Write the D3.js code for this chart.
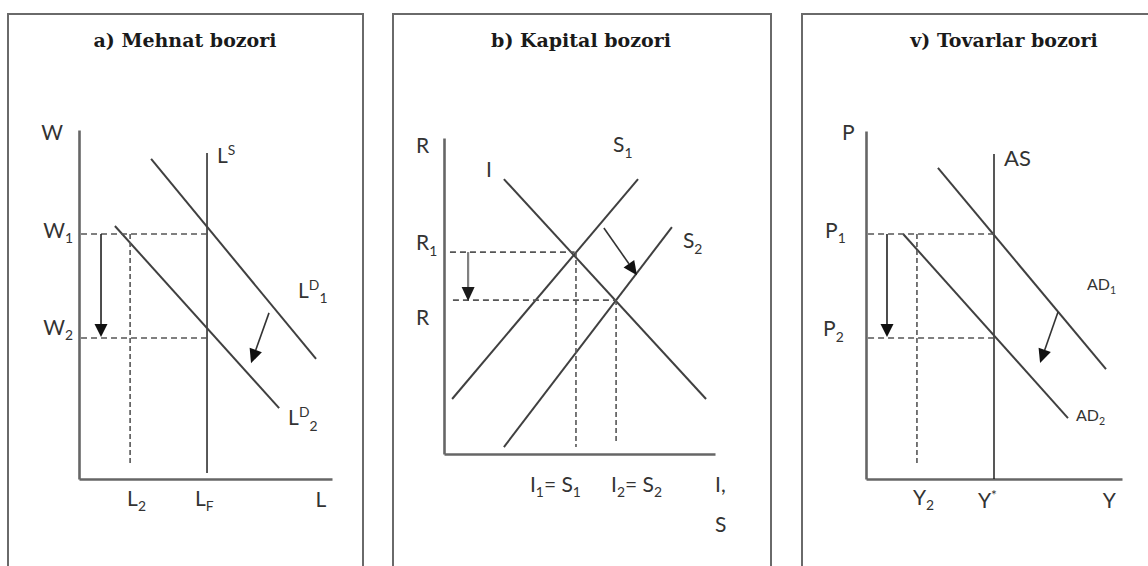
<!DOCTYPE html>
<html><head><meta charset="utf-8">
<script src="https://cdn.jsdelivr.net/npm/d3@7"></script>
<style>body{margin:0;background:#fff} svg{display:block}</style>
</head><body><svg id="c" width="1148" height="566"></svg>
<script>
// ---------------- data (abstract units 0–100 on each axis) ----------------
const panelTitles = ["a) Mehnat bozori", "b) Kapital bozori", "v) Tovarlar bozori"];

// a) labour market
const laborAxisNames = ["W", "L"];
const laborSupplyLF = 50.6;
const laborSupplyTop = 93.4;
const laborDemand1 = [[28.5, 91.7], [93.7, 34.4]];
const laborDemand2 = [[14.2, 72.5], [79.1, 20.3]];
const wageLevels = [70.2, 40.4];            // W1, W2
const wageLabels = ["W_1", "W_2"];
const laborL2 = 20.2;
const laborTickLabels = ["L_2", "L_F"];
const wageArrowX = 8.7;
const laborShift = [[75.1, 47.6], [68.0, 33.2]];
const laborCurveLabels = ["L^S", "L^D_1", "L^D_2"];

// b) capital market
const capitalAxisNames = ["R", "I,", "S"];
const investment = [[22.1, 87.0], [96.7, 17.4]];
const saving1 = [[3.0, 17.4], [71.6, 87.0]];
const saving2 = [[22.1, 2.2], [84.1, 71.8]];
const rateLevels = [63.9, 48.7];            // R1, R
const rateLabels = ["R_1", "R"];
const quantityLevels = [48.7, 63.5];        // I1=S1, I2=S2
const quantityLabels = ["I_1= S_1", "I_2= S_2"];
const rateArrowX = 8.9;
const savingShift = [[59.0, 71.5], [71.2, 56.6]];
const capitalCurveLabels = ["I", "S_1", "S_2"];

// v) goods market
const goodsAxisNames = ["P", "Y"];
const aggSupplyY = 50.0;
const aggSupplyTop = 93.4;
const aggDemand1 = [[28.1, 89.4], [93.75, 31.6]];
const aggDemand2 = [[14.5, 70.4], [78.9, 17.5]];
const priceLevels = [70.4, 40.5];           // P1, P2
const priceLabels = ["P_1", "P_2"];
const outputY2 = 19.9;
const outputTickLabels = ["Y_2", "Y^*"];
const priceArrowX = 8.2;
const demandShift = [[75.0, 48.0], [68.0, 33.3]];
const goodsCurveLabels = ["AS", "AD_1", "AD_2"];

// ---------------- drawing ----------------
const svg = d3.select("#c");
svg.append("rect").attr("width", 1148).attr("height", 566).attr("fill", "#fff");

const FONT = "Lato, 'Open Sans', sans-serif";
const CURVE = "#404040", AXIS = "#666", DASH = "#555", TXT = "#333";

// frames
const frames = [[8, 363], [393, 771], [802, 1152]];
frames.forEach(([x0, x1]) => {
  svg.append("rect").attr("x", x0).attr("y", 14).attr("width", x1 - x0).attr("height", 600)
    .attr("fill", "none").attr("stroke", "#6a6a6a").attr("stroke-width", 2);
});
const titleX = [185, 581, 1004];
panelTitles.forEach((t, i) => {
  svg.append("text").attr("x", titleX[i]).attr("y", 47).attr("text-anchor", "middle")
    .attr("font-family", "'DejaVu Serif', serif").attr("font-weight", "bold")
    .attr("font-size", 19).attr("fill", "#1a1a1a").text(t);
});

// rich label: "_" subscript char, "^" superscript char
function rich(g, str, x, y, opts = {}) {
  const size = opts.size || 21;
  const t = g.append("text").attr("x", x).attr("y", y)
    .attr("font-family", FONT).attr("font-size", size).attr("fill", TXT)
    .attr("text-anchor", opts.anchor || "start");
  let i = 0;
  const parts = [];
  while (i < str.length) {
    const c = str[i];
    if (c === "_" || c === "^") { parts.push({ k: c === "_" ? -1 : 1, s: str[i + 1] }); i += 2; }
    else { let s = ""; while (i < str.length && str[i] !== "_" && str[i] !== "^") s += str[i++]; parts.push({ k: 0, s }); }
  }
  let cur = 0;
  parts.forEach(p => {
    const target = p.k === -1 ? size * 0.26 : p.k === 1 ? -size * 0.38 : 0;
    t.append("tspan").attr("dy", target - cur)
      .attr("font-size", p.k ? size * 0.66 : size).text(p.s);
    cur = target;
  });
  return t;
}

function arrow(g, x0, y0, x1, y1, color, headColor, hl = 13, hw = 6.5, w = 1.6) {
  const dx = x1 - x0, dy = y1 - y0, L = Math.hypot(dx, dy), ux = dx / L, uy = dy / L;
  const bx = x1 - ux * hl, by = y1 - uy * hl;
  g.append("line").attr("x1", x0).attr("y1", y0).attr("x2", bx).attr("y2", by)
    .attr("stroke", color).attr("stroke-width", w);
  g.append("path").attr("d", `M${x1},${y1}L${bx - uy * hw},${by + ux * hw}L${bx + uy * hw},${by - ux * hw}Z`)
    .attr("fill", headColor);
}

function panel(xr, yr) {
  const g = svg.append("g");
  const x = d3.scaleLinear().domain([0, 100]).range(xr);
  const y = d3.scaleLinear().domain([0, 100]).range(yr);
  const ax = d3.axisBottom(x).tickValues([]).tickSizeOuter(0);
  const ay = d3.axisLeft(y).tickValues([]).tickSizeOuter(0);
  g.append("g").attr("transform", `translate(0,${y(0)})`).call(ax)
    .select(".domain").attr("stroke", AXIS).attr("stroke-width", 2.6);
  g.append("g").attr("transform", `translate(${x(0)},0)`).call(ay)
    .select(".domain").attr("stroke", AXIS).attr("stroke-width", 2.6);
  const line = d3.line().x(d => x(d[0])).y(d => y(d[1]));
  const curve = (pts, w = 2, c = CURVE) => g.append("path").attr("d", line(pts))
    .attr("fill", "none").attr("stroke", c).attr("stroke-width", w);
  const dashed = (pts, da) => g.append("path").attr("d", line(pts)).attr("fill", "none")
    .attr("stroke", DASH).attr("stroke-width", 1.6).attr("stroke-dasharray", da);
  return { g, x, y, curve, dashed };
}

// ---- panel a ----
{
  const p = panel([79, 332], [479, 130]);
  const { g, x, y } = p;
  p.curve([[laborSupplyLF, 1.7], [laborSupplyLF, laborSupplyTop]], 1.4, "#111");
  p.curve(laborDemand1);
  p.curve(laborDemand2);
  wageLevels.forEach(w => p.dashed([[0.8, w], [laborSupplyLF + 1, w]], "6,4"));
  p.dashed([[laborL2, wageLevels[0]], [laborL2, 4]], "5,3");
  arrow(g, x(wageArrowX), y(wageLevels[0]), x(wageArrowX), y(wageLevels[1]) - 1, "#222", "#111", 13, 6.5, 1.6);
  arrow(g, x(laborShift[0][0]), y(laborShift[0][1]), x(laborShift[1][0]), y(laborShift[1][1]), "#333", "#111", 14, 6.5, 1.6);
  rich(g, laborAxisNames[0], x(0) - 16, y(100) + 10, { anchor: "end" });
  rich(g, wageLabels[0], x(0) - 6, y(wageLevels[0]) + 4, { anchor: "end" });
  rich(g, wageLabels[1], x(0) - 6, y(wageLevels[1]) - 3, { anchor: "end" });
  rich(g, laborTickLabels[0], x(laborL2) - 3, y(0) + 27);
  rich(g, laborTickLabels[1], x(laborSupplyLF) - 12, y(0) + 27);
  rich(g, laborAxisNames[1], x(93.5), y(0) + 28);
  rich(g, laborCurveLabels[0], x(laborSupplyLF) + 10, y(laborSupplyTop) + 10);
  rich(g, laborCurveLabels[1], x(laborDemand1[1][0]) - 18, y(laborDemand1[1][1]) - 61);
  rich(g, laborCurveLabels[2], x(laborDemand2[1][0]) + 9, y(laborDemand2[1][1]) + 17);
}

// ---- panel b ----
{
  const p = panel([444, 715], [454, 138]);
  const { g, x, y } = p;
  p.curve(investment);
  p.curve(saving1);
  p.curve(saving2);
  p.dashed([[2.2, rateLevels[0]], [quantityLevels[0] - 0.5, rateLevels[0]]], "6,4");
  p.dashed([[3.3, rateLevels[1]], [quantityLevels[1], rateLevels[1]]], "6,4");
  p.dashed([[quantityLevels[0], rateLevels[0]], [quantityLevels[0], 2.2]], "5,3");
  p.dashed([[quantityLevels[1], rateLevels[1]], [quantityLevels[1], 3.2]], "5,3");
  arrow(g, x(rateArrowX), y(rateLevels[0]), x(rateArrowX), y(rateLevels[1]) + 1, "#808080", "#1a1a1a", 14, 6.5, 2.2);
  arrow(g, x(savingShift[0][0]), y(savingShift[0][1]), x(savingShift[1][0]), y(savingShift[1][1]), "#333", "#111", 14, 6.5, 1.6);
  rich(g, capitalAxisNames[0], x(0) - 28, y(100) + 15);
  rich(g, rateLabels[0], x(0) - 28, y(rateLevels[0]) - 2);
  rich(g, rateLabels[1], x(0) - 28, y(rateLevels[1]) + 25);
  const qOff = [-46, -5];
  quantityLabels.forEach((q, i) => rich(g, q, x(quantityLevels[i]) + qOff[i], y(0) + 38));
  rich(g, capitalAxisNames[1], x(100), y(0) + 38);
  rich(g, capitalAxisNames[2], x(100), y(0) + 78);
  rich(g, capitalCurveLabels[0], x(investment[0][0]) - 18, y(investment[0][1]) - 2);
  rich(g, capitalCurveLabels[1], x(saving1[1][0]) - 25, y(saving1[1][1]) - 27);
  rich(g, capitalCurveLabels[2], x(saving2[1][0]) + 11, y(saving2[1][1]) + 21);
}

// ---- panel v ----
{
  const p = panel([866, 1122], [479, 131]);
  const { g, x, y } = p;
  p.curve([[aggSupplyY, 0], [aggSupplyY, aggSupplyTop]], 1.4, "#111");
  p.curve(aggDemand1);
  p.curve(aggDemand2);
  priceLevels.forEach(v => p.dashed([[0.8, v], [aggSupplyY, v]], "6,4"));
  p.dashed([[outputY2, priceLevels[0]], [outputY2, 4]], "5,3");
  arrow(g, x(priceArrowX), y(priceLevels[0]), x(priceArrowX), y(priceLevels[1]) - 1, "#222", "#111", 13, 6.5, 1.6);
  arrow(g, x(demandShift[0][0]), y(demandShift[0][1]), x(demandShift[1][0]), y(demandShift[1][1]), "#333", "#111", 14, 6.5, 1.6);
  rich(g, goodsAxisNames[0], x(0) - 24, y(100) + 9);
  rich(g, priceLabels[0], x(0) - 41, y(priceLevels[0]) + 4);
  rich(g, priceLabels[1], x(0) - 43, y(priceLevels[1]) - 2);
  rich(g, outputTickLabels[0], x(outputY2) - 4, y(0) + 26);
  rich(g, outputTickLabels[1], x(aggSupplyY) - 16, y(0) + 29);
  rich(g, goodsAxisNames[1], x(92.5), y(0) + 29);
  rich(g, goodsCurveLabels[0], x(aggSupplyY) + 10, y(aggSupplyTop) + 12, { size: 22 });
  rich(g, goodsCurveLabels[1], x(aggDemand1[1][0]) - 19, y(aggDemand1[1][1]) - 79, { size: 16 });
  rich(g, goodsCurveLabels[2], x(aggDemand2[1][0]) + 8, y(aggDemand2[1][1]) + 3, { size: 16 });
}
</script></body></html>
